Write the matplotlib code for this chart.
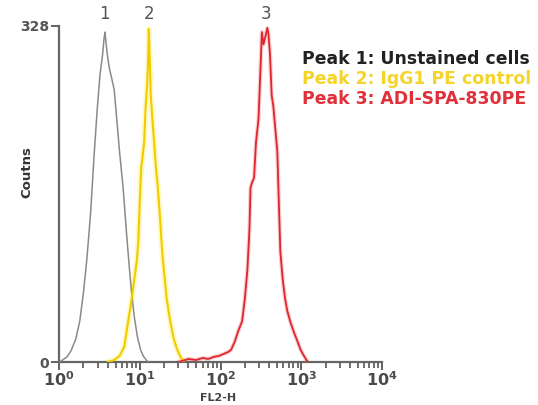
import matplotlib
matplotlib.use("Agg")
import matplotlib.pyplot as plt
from matplotlib.ticker import LogLocator, FixedLocator, NullFormatter

# ---- data ----
gray_x = [1.0, 1.1, 1.25, 1.4, 1.6, 1.8, 2.0, 2.2, 2.45, 2.7, 2.95, 3.2, 3.45, 3.6, 3.7,
          3.8, 3.95, 4.2, 4.5, 4.8, 5.2, 5.6, 6.2, 6.8, 7.4, 7.8, 8.5, 9.3, 10.2, 11.0, 12.0, 12.8]
gray_y = [0, 2, 5, 11, 22, 40, 68, 100, 145, 200, 245, 280, 300, 316, 322,
          312, 300, 286, 276, 266, 235, 205, 170, 128, 92, 72, 45, 25, 12, 6, 2, 0]

yellow_x = [4.0, 4.8, 5.6, 6.4, 7.1, 7.8, 8.5, 9.2, 9.6, 10.0, 10.4, 10.8, 11.3, 11.8, 12.3,
            12.7, 12.9, 13.2, 13.6, 14.2, 15.0, 15.8, 16.7, 17.8, 18.8, 19.8, 21.5, 23.5,
            26.0, 29.0, 32.0, 35.0]
yellow_y = [0, 2, 6, 15, 38, 58, 80, 100, 120, 160, 190, 200, 215, 250, 270,
            300, 325, 300, 262, 240, 215, 190, 170, 140, 110, 90, 62, 42,
            24, 12, 5, 0]

red_x = [30, 40, 50, 60, 70, 82, 95, 110, 125, 135, 150, 165, 185, 200, 215, 228, 235,
         245, 260, 275, 295, 310, 325, 340, 360, 380, 392, 410, 430, 450, 480, 505, 530,
         550, 590, 630, 670, 740, 820, 890, 980, 1080, 1200]
red_y = [0, 3, 2, 4, 3, 5, 6, 8, 10, 12, 20, 30, 40, 62, 90, 130, 170,
         175, 180, 215, 237, 280, 322, 310, 318, 326, 320, 300, 260, 250, 225, 205, 150,
         108, 80, 62, 50, 38, 28, 21, 12, 6, 0]

peak_labels = ["1", "2", "3"]
peak_label_x = [3.6, 12.9, 370]
legend_texts = ["Peak 1: Unstained cells", "Peak 2: IgG1 PE control", "Peak 3: ADI-SPA-830PE"]
colors = ["#222222", "#f5d42a", "#e0303a"]
line_colors = ["#8a8a8a", "#f2cc00", "#e0262e"]
y_max = 328
x_ticks = [1, 10, 100, 1000, 10000]
x_ticklabels = [r"$10^{0}$", r"$10^{1}$", r"$10^{2}$", r"$10^{3}$", r"$10^{4}$"]

plt.rcParams['font.family'] = ['DejaVu Sans']
plt.rcParams['mathtext.default'] = 'bf'

fig = plt.figure(figsize=(5.38, 4.05), dpi=100)
ax = fig.add_axes([0.110, 0.106, 0.600, 0.830])

ax.plot(yellow_x, yellow_y, color="#fff06a", lw=4, alpha=0.4, zorder=2)
ax.plot(gray_x, gray_y, color=line_colors[0], lw=1.1, zorder=3)
ax.plot(yellow_x, yellow_y, color=line_colors[1], lw=1.5, zorder=3)
ax.plot(red_x, red_y, color="#f07a80", lw=3, alpha=0.35, zorder=2)
ax.plot(red_x, red_y, color=line_colors[2], lw=1.3, zorder=4)

ax.set_xscale("log")
ax.set_xlim(1, 10000)
ax.set_ylim(0, y_max)

for s in ["top", "right"]:
    ax.spines[s].set_visible(False)
for s in ["left", "bottom"]:
    ax.spines[s].set_color("#666666")
    ax.spines[s].set_linewidth(1.6)

ax.xaxis.set_major_locator(FixedLocator(x_ticks))
ax.set_xticklabels(x_ticklabels, fontsize=11.5, color="#4a4a4a")
ax.xaxis.set_minor_locator(LogLocator(base=10, subs=range(2, 10), numticks=20))
ax.xaxis.set_minor_formatter(NullFormatter())
ax.tick_params(axis="x", which="major", direction="out", length=6, width=1.3, color="#555555", pad=0)
ax.tick_params(axis="x", which="minor", direction="out", length=4, width=1.2, color="#555555")

ax.set_yticks([0, y_max])
ax.set_yticklabels(["0", str(y_max)], fontsize=10, color="#555555", fontweight="bold")
ax.tick_params(axis="y", direction="out", length=6, width=1.3, color="#555555", pad=1)

fig.text(0.405, 0.017, "FL2-H", fontsize=8, fontweight="bold", color="#444444",
         ha="center", va="center")
fig.text(0.050, 0.575, "Coutns", fontsize=9.5, fontweight="bold", color="#333333",
         ha="center", va="center", rotation=90)

for lab, lx in zip(peak_labels, peak_label_x):
    ax.text(lx, 1.01 * y_max, lab, ha="center", va="bottom", fontsize=12, color="#555555",
            transform=ax.transData, clip_on=False)

for i, (t, c) in enumerate(zip(legend_texts, colors)):
    fig.text(0.561, 0.855 - i * 0.050, t, fontsize=12.4, fontweight="bold", color=c,
             ha="left", va="center")

fig.savefig("out.png", dpi=100, facecolor="white")
